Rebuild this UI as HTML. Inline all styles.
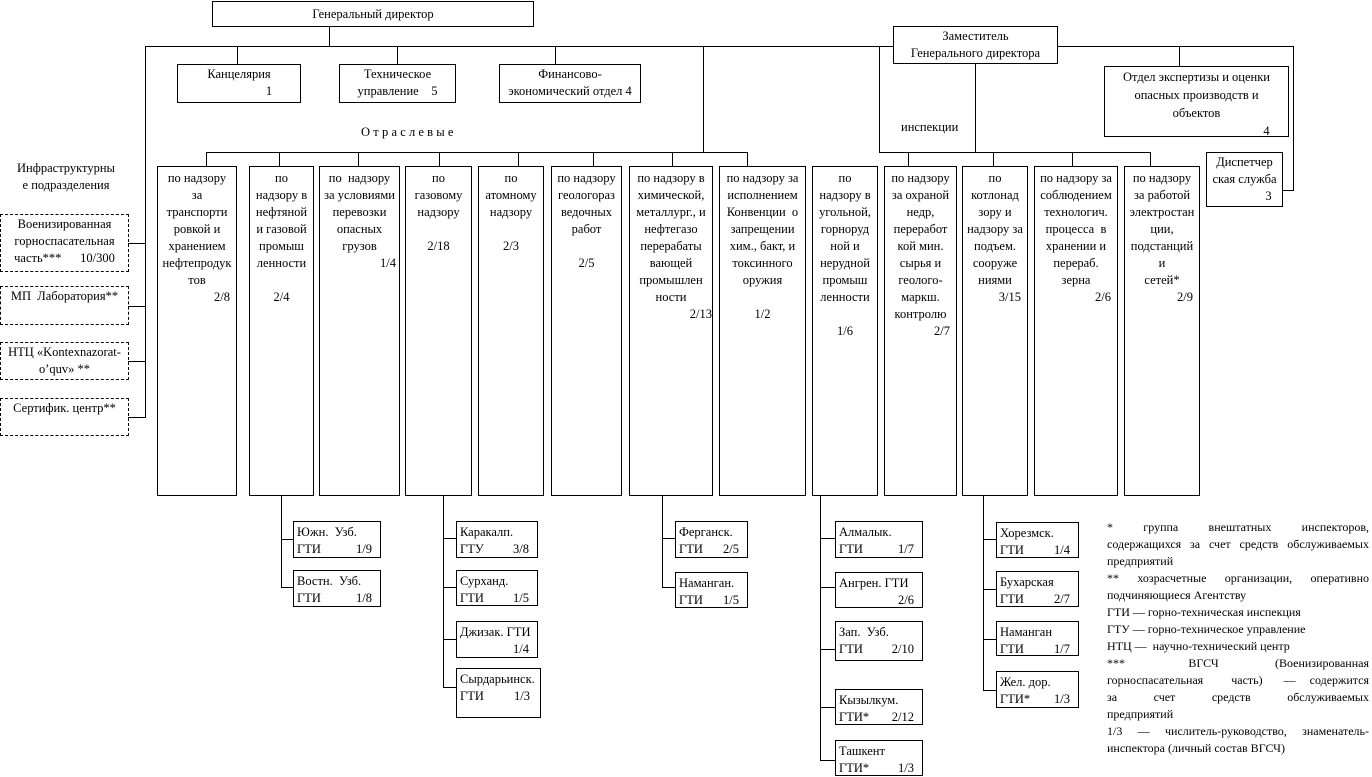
<!DOCTYPE html>
<html><head><meta charset="utf-8">
<style>
body{margin:0;width:1372px;height:777px;background:#fff;position:relative;overflow:hidden;font-family:"Liberation Serif","Noto Serif CJK SC",serif;font-size:12.5px;color:#000}
.b{position:absolute;border:1px solid #000;box-sizing:border-box;text-align:center;line-height:17px;white-space:nowrap;background:#fff}
.d{border-style:dashed}
.h{position:absolute;height:1px;background:#000}
.v{position:absolute;width:1px;background:#000}
.t{position:absolute;white-space:nowrap;line-height:16px}
.c{padding-top:3px}
.r{text-align:right;padding-right:6px}
.s{text-align:left;padding:2px 0 0 3px;line-height:17px}
.s span{position:absolute;right:8px}
</style></head><body>
<!-- top -->
<div class="b" style="left:212px;top:1px;width:322px;height:26px;line-height:24px">Генеральный директор</div>
<div class="v" style="left:329px;top:26px;height:20px"></div>
<div class="h" style="left:145px;top:46px;width:1148px"></div>
<div class="v" style="left:145px;top:46px;height:372px"></div>
<div class="v" style="left:237px;top:46px;height:18px"></div>
<div class="v" style="left:397px;top:46px;height:18px"></div>
<div class="v" style="left:555px;top:46px;height:18px"></div>
<div class="v" style="left:703px;top:46px;height:106px"></div>
<div class="b" style="left:177px;top:64px;width:124px;height:39px;line-height:17px;padding-top:1px">Канцелярия<br><span style="padding-left:60px">1</span></div>
<div class="b" style="left:339px;top:64px;width:117px;height:39px;line-height:17px;padding-top:1px">Техническое<br>управление&nbsp;&nbsp;&nbsp;&nbsp;5</div>
<div class="b" style="left:499px;top:64px;width:142px;height:39px;line-height:17px;padding-top:1px">Финансово-<br>экономический отдел&nbsp;4</div>
<div class="t" style="left:361px;top:124px;letter-spacing:3.2px">Отраслевые</div>
<div class="h" style="left:206px;top:152px;width:542px"></div>
<!-- deputy -->
<div class="b" style="left:893px;top:26px;width:165px;height:38px;line-height:17px;padding-top:1px">Заместитель<br>Генерального директора</div>
<div class="v" style="left:879px;top:46px;height:106px"></div>
<div class="v" style="left:975px;top:63px;height:89px"></div>
<div class="h" style="left:879px;top:152px;width:272px"></div>
<div class="t" style="left:901px;top:119px">инспекции</div>
<div class="v" style="left:1179px;top:46px;height:20px"></div>
<div class="b" style="left:1104px;top:66px;width:185px;height:71px;line-height:18px;padding-top:1px">Отдел экспертизы и оценки<br>опасных производств и<br>объектов<br><span style="padding-left:140px">4</span></div>
<div class="v" style="left:1293px;top:46px;height:145px"></div>
<div class="h" style="left:1282px;top:190px;width:12px"></div>
<div class="b" style="left:1206px;top:152px;width:77px;height:55px;line-height:17px;padding-top:1px">Диспетчер<br>ская служба<br><span style="padding-left:48px">3</span></div>
<!-- infra -->
<div class="t" style="left:10px;top:160px;width:112px;text-align:center;line-height:17px">Инфраструктурны<br>е подразделения</div>
<div class="b d" style="left:0;top:214px;width:129px;height:58px;padding-top:1px">Военизированная<br>горноспасательная<br>часть***&nbsp;&nbsp;&nbsp;&nbsp;&nbsp;&nbsp;10/300</div>
<div class="b d" style="left:0;top:286px;width:129px;height:39px;padding-top:1px">МП&nbsp; Лаборатория**</div>
<div class="b d" style="left:0;top:342px;width:129px;height:38px;padding-top:1px">НТЦ «Kontexnazorat-<br>o’quv» **</div>
<div class="b d" style="left:0;top:398px;width:129px;height:38px;padding-top:1px">Сертифик. центр**</div>
<div class="h" style="left:128px;top:243px;width:17px"></div>
<div class="h" style="left:128px;top:306px;width:17px"></div>
<div class="h" style="left:128px;top:361px;width:17px"></div>
<div class="h" style="left:128px;top:417px;width:17px"></div>
<!-- column connectors -->
<div class="v" style="left:206px;top:152px;height:14px"></div>
<div class="v" style="left:279px;top:152px;height:14px"></div>
<div class="v" style="left:358px;top:152px;height:14px"></div>
<div class="v" style="left:439px;top:152px;height:14px"></div>
<div class="v" style="left:518px;top:152px;height:14px"></div>
<div class="v" style="left:593px;top:152px;height:14px"></div>
<div class="v" style="left:672px;top:152px;height:14px"></div>
<div class="v" style="left:747px;top:152px;height:14px"></div>
<div class="v" style="left:908px;top:152px;height:14px"></div>
<div class="v" style="left:993px;top:152px;height:14px"></div>
<div class="v" style="left:1072px;top:152px;height:14px"></div>
<div class="v" style="left:1150px;top:152px;height:14px"></div>
<!-- columns -->
<div class="b c" style="left:157px;top:166px;width:80px;height:330px">по надзору<br>за<br>транспорти<br>ровкой и<br>хранением<br>нефтепродук<br>тов<div class="r">2/8</div></div>
<div class="b c" style="left:249px;top:166px;width:65px;height:330px">по<br>надзору в<br>нефтяной<br>и газовой<br>промыш<br>ленности<br><br>2/4</div>
<div class="b c" style="left:319px;top:166px;width:81px;height:330px">по&nbsp; надзору<br>за условиями<br>перевозки<br>опасных<br>грузов<div class="r" style="padding-right:3px">1/4</div></div>
<div class="b c" style="left:405px;top:166px;width:67px;height:330px">по<br>газовому<br>надзору<br><br>2/18</div>
<div class="b c" style="left:478px;top:166px;width:66px;height:330px">по<br>атомному<br>надзору<br><br>2/3</div>
<div class="b c" style="left:551px;top:166px;width:71px;height:330px">по надзору<br>геологораз<br>ведочных<br>работ<br><br>2/5</div>
<div class="b c" style="left:629px;top:166px;width:84px;height:330px">по надзору в<br>химической,<br>металлург., и<br>нефтегазо<br>перерабаты<br>вающей<br>промышлен<br>ности<div class="r" style="padding-right:0">2/13</div></div>
<div class="b c" style="left:719px;top:166px;width:87px;height:330px">по надзору за<br>исполнением<br>Конвенции&nbsp; о<br>запрещении<br>хим., бакт, и<br>токсинного<br>оружия<br><br>1/2</div>
<div class="b c" style="left:812px;top:166px;width:66px;height:330px">по<br>надзору в<br>угольной,<br>горноруд<br>ной и<br>нерудной<br>промыш<br>ленности<br><br>1/6</div>
<div class="b c" style="left:884px;top:166px;width:73px;height:330px">по надзору<br>за охраной<br>недр,<br>переработ<br>кой мин.<br>сырья и<br>геолого-<br>маркш.<br>контролю<div class="r">2/7</div></div>
<div class="b c" style="left:962px;top:166px;width:66px;height:330px">по<br>котлонад<br>зору и<br>надзору за<br>подъем.<br>сооруже<br>ниями<div class="r">3/15</div></div>
<div class="b c" style="left:1034px;top:166px;width:84px;height:330px">по надзору за<br>соблюдением<br>технологич.<br>процесса&nbsp; в<br>хранении и<br>перераб.<br>зерна<div class="r">2/6</div></div>
<div class="b c" style="left:1124px;top:166px;width:76px;height:330px">по надзору<br>за работой<br>электростан<br>ции,<br>подстанций<br>и<br>сетей*<div class="r">2/9</div></div>
<!-- sub trees -->
<div class="v" style="left:281px;top:495px;height:93px"></div>
<div class="h" style="left:281px;top:539px;width:12px"></div><div class="h" style="left:281px;top:587px;width:12px"></div>
<div class="b s" style="left:293px;top:521px;width:88px;height:37px">Южн.&nbsp; Узб.<br>ГТИ<span>1/9</span></div>
<div class="b s" style="left:293px;top:570px;width:88px;height:37px">Востн.&nbsp; Узб.<br>ГТИ<span>1/8</span></div>

<div class="v" style="left:443px;top:495px;height:193px"></div>
<div class="h" style="left:443px;top:538px;width:13px"></div><div class="h" style="left:443px;top:587px;width:13px"></div><div class="h" style="left:443px;top:639px;width:13px"></div><div class="h" style="left:443px;top:687px;width:13px"></div>
<div class="b s" style="left:456px;top:521px;width:82px;height:37px">Каракалп.<br>ГТУ<span>3/8</span></div>
<div class="b s" style="left:456px;top:570px;width:82px;height:36px">Сурханд.<br>ГТИ<span>1/5</span></div>
<div class="b s" style="left:456px;top:621px;width:82px;height:37px">Джизак. ГТИ<br>&nbsp;<span>1/4</span></div>
<div class="b s" style="left:456px;top:668px;width:85px;height:50px">Сырдарьинск.<br>ГТИ<span style="right:10px">1/3</span></div>

<div class="v" style="left:662px;top:495px;height:93px"></div>
<div class="h" style="left:662px;top:538px;width:13px"></div><div class="h" style="left:662px;top:587px;width:13px"></div>
<div class="b s" style="left:675px;top:521px;width:73px;height:37px">Ферганск.<br>ГТИ<span>2/5</span></div>
<div class="b s" style="left:675px;top:572px;width:73px;height:36px">Наманган.<br>ГТИ<span>1/5</span></div>

<div class="v" style="left:820px;top:495px;height:266px"></div>
<div class="h" style="left:820px;top:538px;width:15px"></div><div class="h" style="left:820px;top:587px;width:15px"></div><div class="h" style="left:820px;top:649px;width:15px"></div><div class="h" style="left:820px;top:707px;width:15px"></div><div class="h" style="left:820px;top:760px;width:15px"></div>
<div class="b s" style="left:835px;top:521px;width:88px;height:37px">Алмалык.<br>ГТИ<span>1/7</span></div>
<div class="b s" style="left:835px;top:572px;width:88px;height:36px">Ангрен. ГТИ<br>&nbsp;<span>2/6</span></div>
<div class="b s" style="left:835px;top:621px;width:88px;height:40px">Зап.&nbsp; Узб.<br>ГТИ<span>2/10</span></div>
<div class="b s" style="left:835px;top:689px;width:88px;height:36px">Кызылкум.<br>ГТИ*<span>2/12</span></div>
<div class="b s" style="left:835px;top:740px;width:88px;height:36px">Ташкент<br>ГТИ*<span>1/3</span></div>

<div class="v" style="left:983px;top:495px;height:196px"></div>
<div class="h" style="left:983px;top:539px;width:13px"></div><div class="h" style="left:983px;top:589px;width:13px"></div><div class="h" style="left:983px;top:639px;width:13px"></div><div class="h" style="left:983px;top:690px;width:13px"></div>
<div class="b s" style="left:996px;top:522px;width:83px;height:36px">Хорезмск.<br>ГТИ<span>1/4</span></div>
<div class="b s" style="left:996px;top:571px;width:83px;height:36px">Бухарская<br>ГТИ<span>2/7</span></div>
<div class="b s" style="left:996px;top:621px;width:83px;height:35px">Наманган<br>ГТИ<span>1/7</span></div>
<div class="b s" style="left:996px;top:671px;width:83px;height:37px">Жел. дор.<br>ГТИ*<span>1/3</span></div>
<!-- legend -->
<div style="position:absolute;left:1107px;top:519px;width:262px;line-height:17px;font-size:12px;text-align:justify;text-align-last:auto">
<div style="text-align:justify;text-align-last:justify">*&nbsp;&nbsp;&nbsp; группа&nbsp;&nbsp;&nbsp; внештатных&nbsp;&nbsp;&nbsp; инспекторов,</div>
<div>содержащихся за счет средств обслуживаемых предприятий</div>
<div style="text-align-last:justify">**&nbsp; хозрасчетные&nbsp; организации,&nbsp; оперативно</div>
<div>подчиняющиеся Агентству</div>
<div>ГТИ — горно-техническая инспекция</div>
<div>ГТУ — горно-техническое управление</div>
<div>НТЦ —&nbsp; научно-технический центр</div>
<div style="text-align-last:justify">***&nbsp;&nbsp;&nbsp;&nbsp;&nbsp;&nbsp;&nbsp;&nbsp; ВГСЧ&nbsp;&nbsp;&nbsp;&nbsp;&nbsp;&nbsp;&nbsp; (Военизированная</div>
<div style="text-align-last:justify">горноспасательная&nbsp;&nbsp;&nbsp; часть)&nbsp;&nbsp; —&nbsp; содержится</div>
<div style="text-align-last:justify">за&nbsp;&nbsp;&nbsp;&nbsp; счет&nbsp;&nbsp;&nbsp;&nbsp; средств&nbsp;&nbsp;&nbsp;&nbsp; обслуживаемых</div>
<div>предприятий</div>
<div style="text-align-last:justify">1/3&nbsp; —&nbsp; числитель-руководство,&nbsp; знаменатель-</div>
<div>инспектора (личный состав ВГСЧ)</div>
</div>
</body></html>
